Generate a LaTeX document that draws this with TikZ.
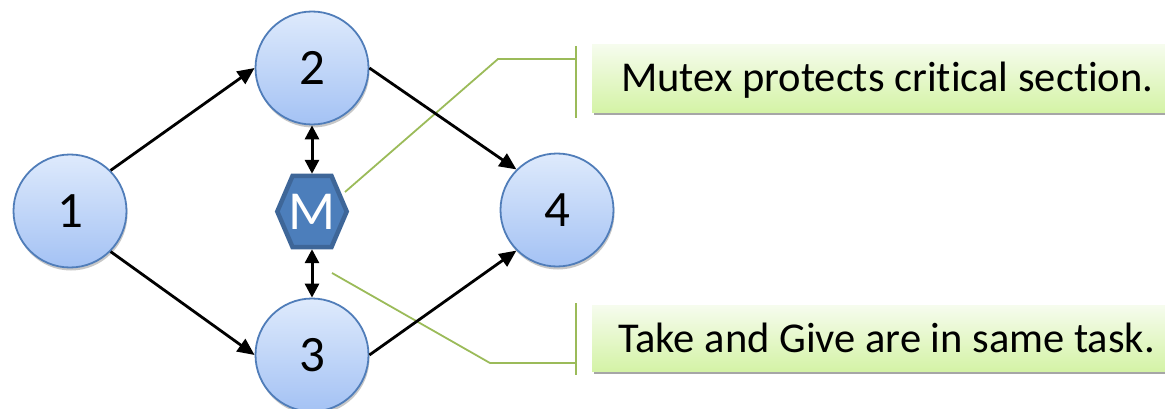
\documentclass[tikz,border=0pt]{standalone}
\usepackage{fontspec}
\setmainfont{Carlito}[Ligatures=NoCommon]
\usetikzlibrary{arrows.meta,shadows,calc}
\definecolor{circleedge}{RGB}{80,125,185}
\definecolor{circletop}{RGB}{222,234,252}
\definecolor{circlebottom}{RGB}{164,194,244}
\definecolor{hexedge}{RGB}{62,102,152}
\definecolor{hexfill}{RGB}{76,126,187}
\definecolor{leadgreen}{RGB}{155,187,89}
\definecolor{notetop}{RGB}{246,252,238}
\definecolor{notebottom}{RGB}{212,243,166}
\begin{document}
\begin{tikzpicture}[x=1pt,y=-1pt,
  task/.style={circle, draw=circleedge, line width=1.8pt,
    top color=circletop, bottom color=circlebottom,
    minimum size=113pt, inner sep=0pt,
    font=\fontsize{51}{51}\selectfont,
    drop shadow={shadow xshift=1pt, shadow yshift=-3pt, opacity=0.22, fill=black}},
  lockbox/.style={rectangle, minimum width=69pt, minimum height=71pt, inner sep=0pt,
    text=white, font=\fontsize{55}{55}\selectfont},
  flow/.style={-{Triangle[length=17pt,width=15pt]}, line width=2.8pt},
  lockarrow/.style={{Triangle[length=14pt,width=14pt]}-{Triangle[length=14pt,width=14pt]}, line width=3pt},
  leader/.style={draw=leadgreen, line width=1.8pt},
  notebox/.style={rectangle, inner sep=0pt, top color=notetop, bottom color=notebottom,
    minimum width=600pt, anchor=north west,
    drop shadow={shadow xshift=2pt, shadow yshift=-3pt, opacity=0.35, fill=black}},
  notetext/.style={anchor=base west, inner sep=0pt, font=\fontsize{42.5}{42.5}\selectfont}
]
\useasboundingbox (0,0) rectangle (1165,409);

% callout boxes
\node[notebox, minimum height=68pt] (n1) at (592,44) {};
\node[notetext] (n1t) at (621,92) {Mutex protects critical section.};
\node[notebox, minimum height=66pt] (n2) at (592,305) {};
\node[notetext] (n2t) at (618,352) {Take and Give are in same task.};

% leader lines with end bars
\coordinate (l1a) at (345,192);
\coordinate (l1b) at (498,59);
\coordinate (l1c) at (576,59);
\coordinate (b1t) at (576,46);
\coordinate (b1b) at (576,118);
\draw[leader] (l1a) -- (l1b) -- (l1c);
\draw[leader] (b1t) -- (b1b);
\coordinate (l2a) at (332,273);
\coordinate (l2b) at (490,363);
\coordinate (l2c) at (576,363);
\coordinate (b2t) at (576,303);
\coordinate (b2b) at (576,375);
\draw[leader] (l2a) -- (l2b) -- (l2c);
\draw[leader] (b2t) -- (b2b);

% tasks
\node[task] (t1) at (70,211) {1};
\node[task] (t2) at (312,68) {2};
\node[task] (t3) at (312,355) {3};
\node[task] (t4) at (557,210) {4};

% mutex hexagon
\node[lockbox] (mx) at (312,211.5) {};
\draw[draw=hexedge, fill=hexfill, line width=4.5pt, line join=miter]
  (mx.west) -- ($(mx.north west)!0.22!(mx.north east)$)
  -- ($(mx.north west)!0.78!(mx.north east)$) -- (mx.east)
  -- ($(mx.south west)!0.78!(mx.south east)$)
  -- ($(mx.south west)!0.22!(mx.south east)$) -- cycle;
\node[lockbox] (mxl) at (mx.center) {M};

% flow arrows
\draw[flow] (t1.north east) -- (t2.west);
\draw[flow] (t1.south east) -- (t3.west);
\draw[flow] (t2.east) -- (t4.north west);
\draw[flow] (t3.east) -- (t4.south west);

% take / give
\draw[lockarrow] (t2.south) -- ($(mx.north)+(0,-2)$);
\draw[lockarrow] ($(mx.south)+(0,2)$) -- (t3.north);
\end{tikzpicture}
\end{document}
